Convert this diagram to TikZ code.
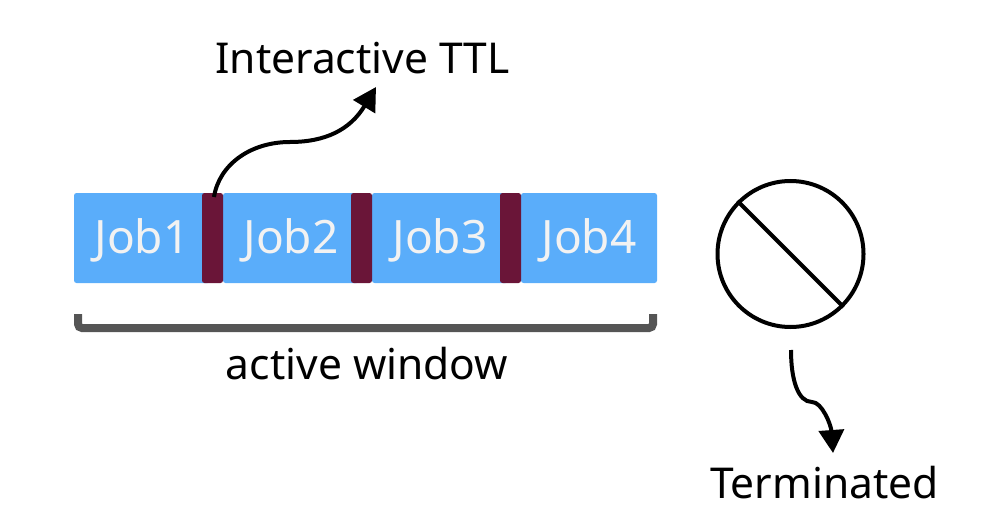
\documentclass[tikz,border=0pt]{standalone}
\usepackage{fontspec}
\setmainfont{Noto Sans}
\usetikzlibrary{arrows.meta}
\definecolor{jobblue}{HTML}{5AADFA}
\definecolor{ttlred}{HTML}{6A1538}
\definecolor{brk}{HTML}{555555}
\definecolor{jobtext}{HTML}{F2F2F2}
\tikzset{
  jobbox/.style={fill=jobblue,rounded corners=2.5pt,inner sep=0pt,minimum width=136pt,minimum height=90pt,text width=136pt,align=center,text height=34pt,text depth=4pt,text=jobtext,font=\fontsize{46}{50}\selectfont},
  ttlbox/.style={fill=ttlred,rounded corners=2.5pt,inner sep=0pt,minimum height=90pt,minimum width=21pt},
  label/.style={inner sep=0pt,text=black,font=\fontsize{42.5}{48}\selectfont},
  conn/.style={line width=4pt,-{Triangle[length=23pt,width=25pt]}},
}
\begin{document}
\begin{tikzpicture}[x=1pt,y=-1pt]
\useasboundingbox (0,0) rectangle (982,532);
\node[jobbox] (j1) at (142,238) {Job1};
\node[jobbox] (j2) at (291,238) {Job2};
\node[jobbox] (j3) at (440,238) {Job3};
\node[jobbox] (j4) at (589,238) {Job4};
\node[ttlbox] (t1) at (212.5,238) {};
\node[ttlbox] (t2) at (361.5,238) {};
\node[ttlbox] (t3) at (510.5,238) {};
\draw[brk,line width=8pt,rounded corners=4pt] (78,314) -- (78,328) -- (653,328) -- (653,314);
\node[label] (ttl) at (362.5,58) {Interactive TTL};
\node[label] (win) at (367,364) {active window};
\node[label] (term) at (824.5,483) {Terminated};
\node[draw=black,line width=4pt,circle,minimum size=146pt,inner sep=0pt] (stop) at (790.5,254) {};
\draw[line width=4pt] (stop.135) -- (stop.-45);
\coordinate (s1) at (214,197);
\coordinate (e1) at (376,87);
\coordinate (s2) at (791,350);
\coordinate (e2) at (833,453);
\draw[conn] (s1) .. controls (219,165) and (250,142) .. (290,142) .. controls (325,142) and (350,130) .. (e1);
\draw[conn] (s2) .. controls (791,380) and (798,402) .. (812,402) .. controls (822,402) and (831,425) .. (e2);
\end{tikzpicture}
\end{document}
